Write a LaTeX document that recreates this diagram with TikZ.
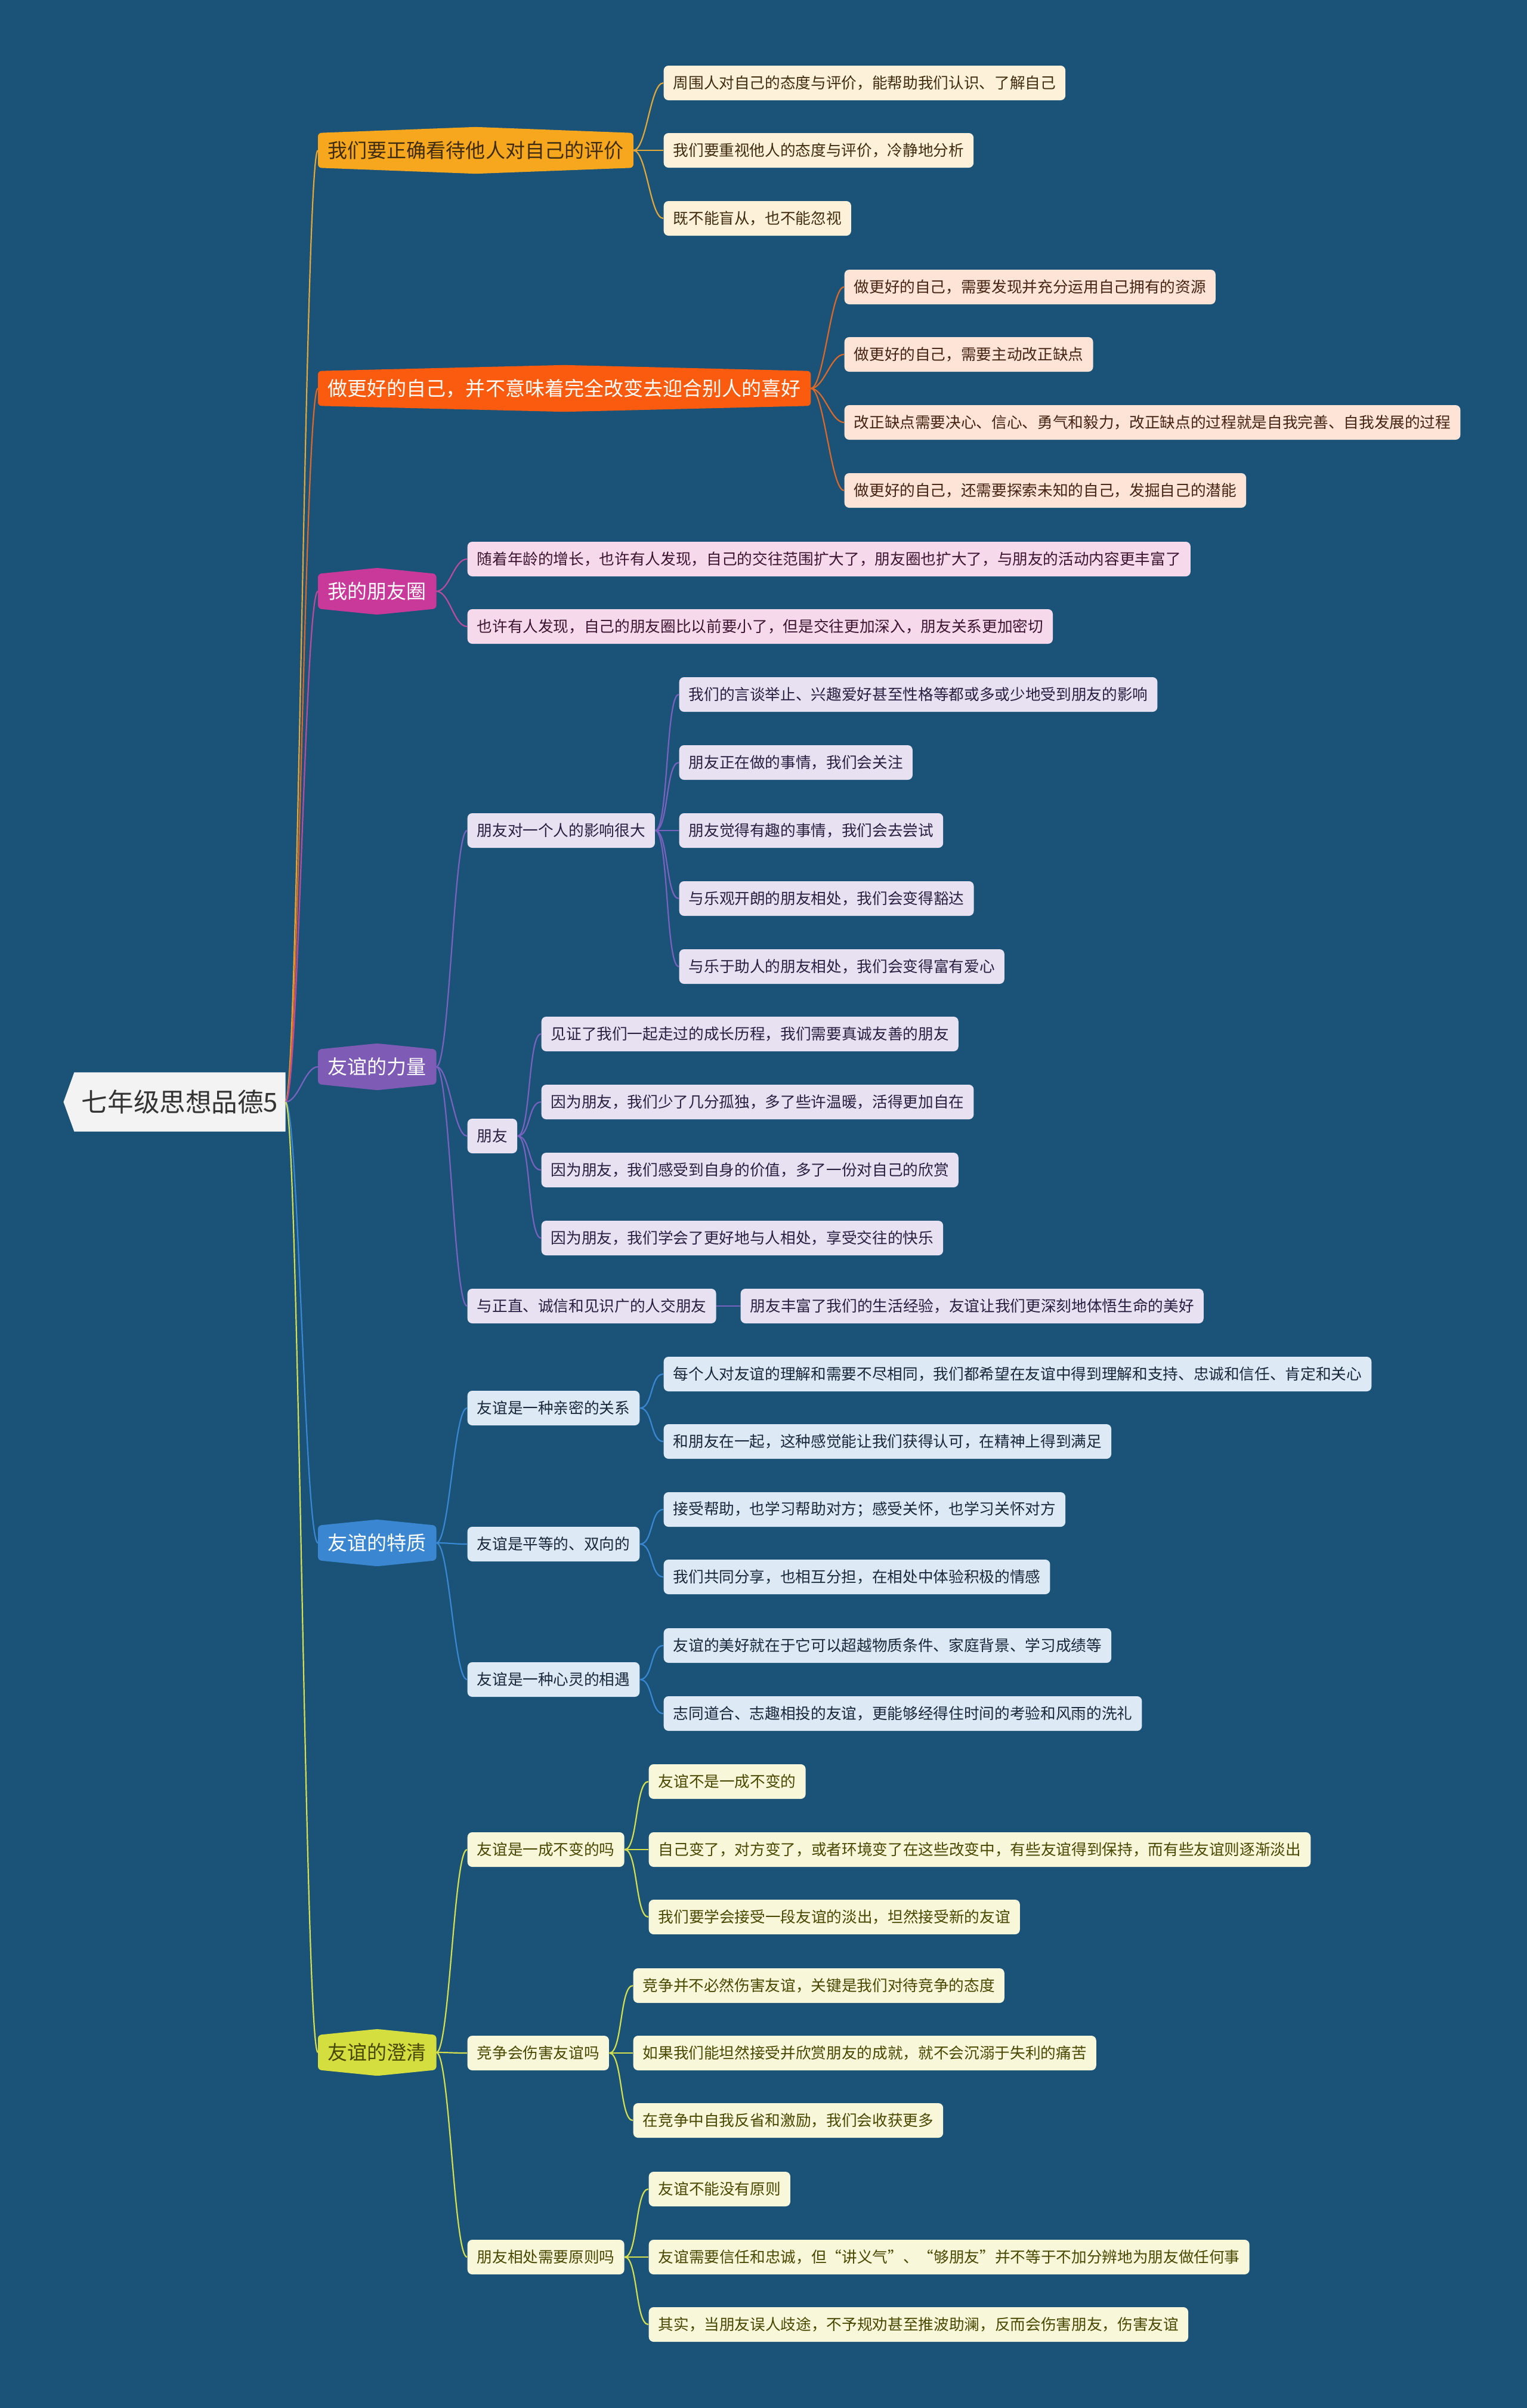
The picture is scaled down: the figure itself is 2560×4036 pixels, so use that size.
\documentclass[tikz,border=0pt]{standalone}
\usepackage{fontspec}
\setmainfont{Noto Sans CJK SC}
\usepackage{tikz}
\usetikzlibrary{backgrounds}
\definecolor{canvas}{RGB}{26,83,119}
\definecolor{rootfill}{RGB}{243,243,243}
\definecolor{topicA}{RGB}{246,167,30}
\definecolor{topicB}{RGB}{250,91,15}
\definecolor{topicC}{RGB}{200,57,154}
\definecolor{topicD}{RGB}{126,91,181}
\definecolor{topicE}{RGB}{58,134,209}
\definecolor{topicF}{RGB}{212,223,63}
\definecolor{paleA}{RGB}{253,241,218}
\definecolor{paleB}{RGB}{253,228,214}
\definecolor{paleC}{RGB}{246,218,236}
\definecolor{paleD}{RGB}{231,225,241}
\definecolor{paleE}{RGB}{221,234,246}
\definecolor{paleF}{RGB}{248,247,218}
\definecolor{inkA}{RGB}{64,44,14}
\definecolor{inkB}{RGB}{70,36,20}
\definecolor{inkC}{RGB}{60,20,48}
\definecolor{inkD}{RGB}{40,32,64}
\definecolor{inkE}{RGB}{24,40,58}
\definecolor{inkF}{RGB}{72,72,0}
\definecolor{lineA}{RGB}{226,168,58}
\definecolor{lineB}{RGB}{222,104,40}
\definecolor{lineC}{RGB}{186,76,158}
\definecolor{lineD}{RGB}{122,98,192}
\definecolor{lineE}{RGB}{58,135,211}
\definecolor{lineF}{RGB}{214,224,78}
\tikzset{
  root/.style={minimum width=34.7mm, minimum height=9.8mm, text=black!80, font=\fontsize{12.4}{14}\selectfont},
  topic/.style={anchor=west, minimum height=5.7mm, inner xsep=1.6mm, font=\fontsize{9.4}{11}\selectfont},
  leaf/.style={anchor=west, rounded corners=0.8mm, minimum height=5.8mm, inner xsep=1.6mm, font=\fontsize{7.3}{9}\selectfont},
  leafA/.style={leaf, fill=paleA, text=inkA},
  leafB/.style={leaf, fill=paleB, text=inkB},
  leafC/.style={leaf, fill=paleC, text=inkC},
  leafD/.style={leaf, fill=paleD, text=inkD},
  leafE/.style={leaf, fill=paleE, text=inkE},
  leafF/.style={leaf, fill=paleF, text=inkF},
  link/.style={line width=0.22mm, out=0, in=180, out distance=2.2mm, in distance=2.2mm}
}

\begin{document}
\begin{tikzpicture}[x=0.1mm, y=-0.1mm]
  \useasboundingbox (0,0) rectangle (2560,4036);

  % root and main topics
  \node[root] (root) at (301.5,1847) {七年级思想品德5};
  \node[topic, text=inkA] (eval) at (533,252) {我们要正确看待他人对自己的评价};
  \node[topic, text=white] (better) at (533,651) {做更好的自己，并不意味着完全改变去迎合别人的喜好};
  \node[topic, text=white] (circle) at (533,991) {我的朋友圈};
  \node[topic, text=white] (power) at (533,1788) {友谊的力量};
  \node[topic, text=white] (nature) at (533,2586) {友谊的特质};
  \node[topic, text=inkF] (clarify) at (533,3440) {友谊的澄清};

  % branch 1
  \node[leafA] (evalA) at (1112,139) {周围人对自己的态度与评价，能帮助我们认识、了解自己};
  \node[leafA] (evalB) at (1112,252) {我们要重视他人的态度与评价，冷静地分析};
  \node[leafA] (evalC) at (1112,366) {既不能盲从，也不能忽视};

  % branch 2
  \node[leafB] (betterA) at (1415,481) {做更好的自己，需要发现并充分运用自己拥有的资源};
  \node[leafB] (betterB) at (1415,594) {做更好的自己，需要主动改正缺点};
  \node[leafB] (betterC) at (1415,708) {改正缺点需要决心、信心、勇气和毅力，改正缺点的过程就是自我完善、自我发展的过程};
  \node[leafB] (betterD) at (1415,822) {做更好的自己，还需要探索未知的自己，发掘自己的潜能};

  % branch 3
  \node[leafC] (circleA) at (783,937) {随着年龄的增长，也许有人发现，自己的交往范围扩大了，朋友圈也扩大了，与朋友的活动内容更丰富了};
  \node[leafC] (circleB) at (783,1050) {也许有人发现，自己的朋友圈比以前要小了，但是交往更加深入，朋友关系更加密切};

  % branch 4
  \node[leafD] (influence) at (783,1392) {朋友对一个人的影响很大};
  \node[leafD] (influenceA) at (1138,1164) {我们的言谈举止、兴趣爱好甚至性格等都或多或少地受到朋友的影响};
  \node[leafD] (influenceB) at (1138,1278) {朋友正在做的事情，我们会关注};
  \node[leafD] (influenceC) at (1138,1392) {朋友觉得有趣的事情，我们会去尝试};
  \node[leafD] (influenceD) at (1138,1506) {与乐观开朗的朋友相处，我们会变得豁达};
  \node[leafD] (influenceE) at (1138,1620) {与乐于助人的朋友相处，我们会变得富有爱心};
  \node[leafD] (friend) at (783,1904) {朋友};
  \node[leafD] (friendA) at (907,1733) {见证了我们一起走过的成长历程，我们需要真诚友善的朋友};
  \node[leafD] (friendB) at (907,1847) {因为朋友，我们少了几分孤独，多了些许温暖，活得更加自在};
  \node[leafD] (friendC) at (907,1961) {因为朋友，我们感受到自身的价值，多了一份对自己的欣赏};
  \node[leafD] (friendD) at (907,2075) {因为朋友，我们学会了更好地与人相处，享受交往的快乐};
  \node[leafD] (choose) at (783,2189) {与正直、诚信和见识广的人交朋友};
  \node[leafD] (chooseA) at (1241,2189) {朋友丰富了我们的生活经验，友谊让我们更深刻地体悟生命的美好};

  % branch 5
  \node[leafE] (close) at (783,2360) {友谊是一种亲密的关系};
  \node[leafE] (closeA) at (1112,2303) {每个人对友谊的理解和需要不尽相同，我们都希望在友谊中得到理解和支持、忠诚和信任、肯定和关心};
  \node[leafE] (closeB) at (1112,2416) {和朋友在一起，这种感觉能让我们获得认可，在精神上得到满足};
  \node[leafE] (equal) at (783,2588) {友谊是平等的、双向的};
  \node[leafE] (equalA) at (1112,2530) {接受帮助，也学习帮助对方；感受关怀，也学习关怀对方};
  \node[leafE] (equalB) at (1112,2643) {我们共同分享，也相互分担，在相处中体验积极的情感};
  \node[leafE] (meet) at (783,2815) {友谊是一种心灵的相遇};
  \node[leafE] (meetA) at (1112,2758) {友谊的美好就在于它可以超越物质条件、家庭背景、学习成绩等};
  \node[leafE] (meetB) at (1112,2872) {志同道合、志趣相投的友谊，更能够经得住时间的考验和风雨的洗礼};

  % branch 6
  \node[leafF] (change) at (783,3100) {友谊是一成不变的吗};
  \node[leafF] (changeA) at (1087,2986) {友谊不是一成不变的};
  \node[leafF] (changeB) at (1087,3100) {自己变了，对方变了，或者环境变了在这些改变中，有些友谊得到保持，而有些友谊则逐渐淡出};
  \node[leafF] (changeC) at (1087,3213) {我们要学会接受一段友谊的淡出，坦然接受新的友谊};
  \node[leafF] (compete) at (783,3441) {竞争会伤害友谊吗};
  \node[leafF] (competeA) at (1061,3328) {竞争并不必然伤害友谊，关键是我们对待竞争的态度};
  \node[leafF] (competeB) at (1061,3441) {如果我们能坦然接受并欣赏朋友的成就，就不会沉溺于失利的痛苦};
  \node[leafF] (competeC) at (1061,3554) {在竞争中自我反省和激励，我们会收获更多};
  \node[leafF] (principle) at (783,3783) {朋友相处需要原则吗};
  \node[leafF] (principleA) at (1087,3669) {友谊不能没有原则};
  \node[leafF] (principleB) at (1087,3783) {友谊需要信任和忠诚，但“讲义气”、“够朋友”并不等于不加分辨地为朋友做任何事};
  \node[leafF] (principleC) at (1087,3896) {其实，当朋友误人歧途，不予规劝甚至推波助澜，反而会伤害朋友，伤害友谊};

  % connectors
  \foreach \t/\c in {eval/lineA, better/lineB, circle/lineC, power/lineD, nature/lineE, clarify/lineF}
    \draw[link, \c] (root.east) to (\t.west);
  \foreach \l in {evalA, evalB, evalC}
    \draw[link, lineA] (eval.east) to (\l.west);
  \foreach \l in {betterA, betterB, betterC, betterD}
    \draw[link, lineB] (better.east) to (\l.west);
  \foreach \l in {circleA, circleB}
    \draw[link, lineC] (circle.east) to (\l.west);
  \foreach \l in {influence, friend, choose}
    \draw[link, lineD] (power.east) to (\l.west);
  \foreach \l in {influenceA, influenceB, influenceC, influenceD, influenceE}
    \draw[link, lineD] (influence.east) to (\l.west);
  \foreach \l in {friendA, friendB, friendC, friendD}
    \draw[link, lineD] (friend.east) to (\l.west);
  \draw[link, lineD] (choose.east) to (chooseA.west);
  \foreach \l in {close, equal, meet}
    \draw[link, lineE] (nature.east) to (\l.west);
  \foreach \l in {closeA, closeB}
    \draw[link, lineE] (close.east) to (\l.west);
  \foreach \l in {equalA, equalB}
    \draw[link, lineE] (equal.east) to (\l.west);
  \foreach \l in {meetA, meetB}
    \draw[link, lineE] (meet.east) to (\l.west);
  \foreach \l in {change, compete, principle}
    \draw[link, lineF] (clarify.east) to (\l.west);
  \foreach \l in {changeA, changeB, changeC}
    \draw[link, lineF] (change.east) to (\l.west);
  \foreach \l in {competeA, competeB, competeC}
    \draw[link, lineF] (compete.east) to (\l.west);
  \foreach \l in {principleA, principleB, principleC}
    \draw[link, lineF] (principle.east) to (\l.west);

  % backdrop and topic shapes
  \begin{scope}[on background layer]
    \fill[canvas] (0,0) rectangle (2560,4036);
    \fill[rootfill] (root.north west) -- (root.north east) -- (root.south east)
      -- (root.south west) -- ([xshift=-1.8mm]root.west) -- cycle;
    \foreach \t/\c in {eval/topicA, better/topicB, circle/topicC, power/topicD, nature/topicE, clarify/topicF}
      \fill[\c, rounded corners=0.6mm] (\t.north west) -- ([yshift=1mm]\t.north) -- (\t.north east)
        -- (\t.south east) -- ([yshift=-1mm]\t.south) -- (\t.south west) -- cycle;
  \end{scope}
\end{tikzpicture}
\end{document}
